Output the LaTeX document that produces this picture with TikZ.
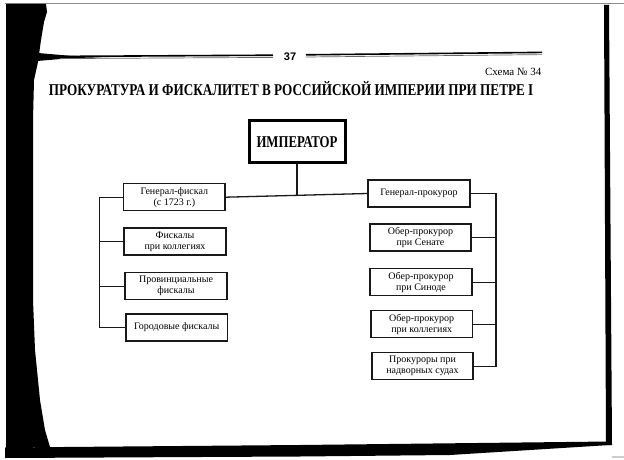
\documentclass[tikz,border=0pt]{standalone}
\usepackage{fontspec}
\usepackage{graphicx}
\setmainfont{Liberation Serif}
\newfontfamily\sansb{Liberation Sans}
\tikzset{
  boxnode/.style={draw=black!90, line width=1.3pt, minimum width=102pt, minimum height=27pt,
    inner sep=0pt, align=center, font=\fontsize{10}{11}\selectfont},
  impnode/.style={draw=black, line width=3pt, minimum width=96pt, minimum height=42pt, inner sep=0pt},
  link/.style={line width=1.3pt, draw=black!90},
  scan/.style={fill=black, draw=none}
}
\begin{document}
\begin{tikzpicture}[x=1pt,y=-1pt]
\fill[white] (0,0) rectangle (624,460);
\useasboundingbox (0,0) rectangle (624,460);
% scan artifacts
\draw[black!45, line width=1.5pt] (5,3.5) -- (624,3.5);
\fill[black!20] (612,455.5) rectangle (624,457.5);
% left black band
\fill[scan] (6,4) rectangle (33,448);
\fill[scan] (6,4) -- (46,4) -- (47,12) -- (44,22) -- (41,40) -- (38,62) -- (34,80) -- (33,120)
  -- (33,300) -- (35,350) -- (40,400) -- (45,430) -- (50,447) -- (13,448) -- (11,350)
  -- (8,200) -- (7,100) -- (6,40) -- cycle;
% tapered spike along the header rule
\fill[scan] (38,53) -- (70,55.8) -- (110,57) -- (70,58.2) -- (37,61) -- cycle;
% bottom and right black bars
\fill[scan] (5,447.5) -- (300,445) -- (610,441.5) -- (610,445) -- (450,455) -- (300,456.5) -- (5,458) -- cycle;
\fill[scan] (604,5) -- (609,5) -- (612,445) -- (606,445) -- cycle;
% header
\draw[black, line width=1.6pt] (45,56.5) -- (273,55.2);
\draw[black!60, line width=0.7pt] (60,58.6) -- (273,57.4);
\draw[black, line width=1.6pt] (306,54.8) -- (542,52.4);
\draw[black!60, line width=0.7pt] (306,57) -- (542,54.6);
\node[font=\sansb\bfseries\fontsize{11}{11}\selectfont, inner sep=0pt] (pg) at (290,56.3) {37};
\node[anchor=base east, inner sep=0pt, font=\fontsize{11}{11}\selectfont] (schema) at (541.5,75) {Схема № 34};
\node[anchor=base west, inner sep=0pt] (title) at (48.6,95.5)
  {\resizebox{484.5pt}{\height}{\fontsize{16.5}{16}\selectfont\bfseries ПРОКУРАТУРА И ФИСКАЛИТЕТ В РОССИЙСКОЙ ИМПЕРИИ ПРИ ПЕТРЕ I}};
% top node
\node[impnode] (imp) at (297,141.8) {\resizebox{81pt}{\height}{\fontsize{16.5}{16}\selectfont\bfseries ИМПЕРАТОР}};
% left column
\node[boxnode, minimum width=101.5pt] (gf) at (174.3,197.2) {Генерал-фискал\\(с 1723 г.)};
\node[boxnode] (fk) at (175,241.5) {Фискалы\\при коллегиях};
\node[boxnode] (pf) at (176,286.2) {Провинциальные\\фискалы};
\node[boxnode, minimum width=101.5pt] (gor) at (176.7,327.5) {Городовые фискалы};
% right column
\node[boxnode] (gp) at (419,193.5) {Генерал-прокурор};
\node[boxnode, minimum width=101pt] (os) at (420.5,237.5) {Обер-прокурор\\при Сенате};
\node[boxnode] (osin) at (421,282.3) {Обер-прокурор\\при Синоде};
\node[boxnode, minimum width=101.5pt] (ok) at (421.7,324.3) {Обер-прокурор\\при коллегиях};
\node[boxnode, minimum width=101pt] (pn) at (422.5,366.3) {Прокуроры при\\надворных судах};
% bus coordinates
\coordinate (lbus) at (99.6,0);
\coordinate (rbus) at (496,0);
\coordinate (jn) at (297,195.6);
% connectors
\draw[link] (gf.east) -- (gp.west);
\draw[link] (imp.south) -- (jn);
\draw[link] (gf.west) -| (lbus |- gor.west) -- (gor.west);
\draw[link] (fk.west) -- (lbus |- fk.west);
\draw[link] (pf.west) -- (lbus |- pf.west);
\draw[link] (gp.east) -| (rbus |- pn.east) -- (pn.east);
\draw[link] (os.east) -- (rbus |- os.east);
\draw[link] (osin.east) -- (rbus |- osin.east);
\draw[link] (ok.east) -- (rbus |- ok.east);
\end{tikzpicture}
\end{document}
